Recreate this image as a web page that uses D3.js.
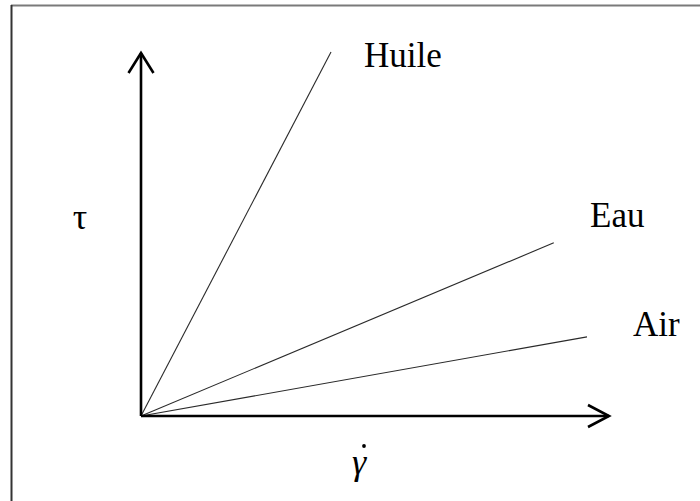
<!DOCTYPE html>
<html>
<head>
<meta charset="utf-8">
<script src="https://cdn.jsdelivr.net/npm/d3@7"></script>
<style>
  html, body { margin: 0; padding: 0; background: #fff; }
  svg { display: block; }
</style>
</head>
<body>
<svg id="chart" width="700" height="501"></svg>
<script>
// Shear stress vs. shear rate for three fluids (Newtonian, straight lines through origin)
const fluids = ["Huile", "Eau", "Air"];
const rateEnd = [4.06, 8.82, 9.53];     // shear rate at end of each line
const stressEnd = [10.03, 4.77, 2.18];  // shear stress at end of each line
const axisMax = [10, 10];               // [x, y] extent reached by the axis arrows
const axisTitles = ["\u03B3", "\u03C4"];

const serif = "'Liberation Serif', Tinos, 'Times New Roman', 'DejaVu Serif', serif";

const svg = d3.select("#chart");

const x = d3.scaleLinear().domain([0, axisMax[0]]).range([141, 609]);
const y = d3.scaleLinear().domain([0, axisMax[1]]).range([416, 53]);

// frame
svg.append("line").attr("x1", 11).attr("y1", 5.5).attr("x2", 700).attr("y2", 5.5)
  .attr("stroke", "#7a7a7a").attr("stroke-width", 2);
svg.append("line").attr("x1", 11.5).attr("y1", 5).attr("x2", 11.5).attr("y2", 501)
  .attr("stroke", "#333").attr("stroke-width", 2);

// fluid lines
const data = fluids.map((name, i) => ({ name, gx: rateEnd[i], ty: stressEnd[i] }));
svg.selectAll("line.fluid").data(data).enter().append("line")
  .attr("class", "fluid")
  .attr("x1", x(0)).attr("y1", y(0))
  .attr("x2", d => x(d.gx)).attr("y2", d => y(d.ty))
  .attr("stroke", "#2a2a2a").attr("stroke-width", 1.1);

// axes with open arrowheads
const axisG = svg.append("g").attr("fill", "none").attr("stroke", "#000")
  .attr("stroke-width", 2.6).attr("stroke-linejoin", "miter").attr("stroke-linecap", "butt");
const line = d3.line();
axisG.append("path").attr("d", line([[x(0), y(0)], [x(axisMax[0]), y(0)]]));
axisG.append("path").attr("d", line([[x(0), y(0)], [x(0), y(axisMax[1])]]));
axisG.append("path").attr("d", line([[x(axisMax[0]) - 21, y(0) - 11], [x(axisMax[0]), y(0)], [x(axisMax[0]) - 21, y(0) + 11]]));
axisG.append("path").attr("d", line([[x(0) - 12.5, y(axisMax[1]) + 20], [x(0), y(axisMax[1])], [x(0) + 12.5, y(axisMax[1]) + 20]]));

// fluid labels
const labelPos = [[364, 67], [590, 226.5], [633, 336]];
svg.selectAll("text.lab").data(fluids).enter().append("text")
  .attr("class", "lab")
  .attr("font-family", serif)
  .attr("x", (d, i) => labelPos[i][0]).attr("y", (d, i) => labelPos[i][1])
  .attr("font-size", 35)
  .attr("fill", "#000")
  .text(d => d);

// x-axis title: italic gamma with a dot accent (time derivative)
svg.append("text").attr("x", 352).attr("y", 474)
  .attr("font-family", serif).attr("font-size", 36).attr("font-style", "italic")
  .attr("fill", "#000").text(axisTitles[0]);
svg.append("circle").attr("cx", 364).attr("cy", 446).attr("r", 1.9).attr("fill", "#000");

// y-axis title
svg.append("text").attr("x", 80).attr("y", 229).attr("text-anchor", "middle")
  .attr("font-family", serif).attr("font-size", 36)
  .attr("fill", "#000").text(axisTitles[1]);
</script>
</body>
</html>
